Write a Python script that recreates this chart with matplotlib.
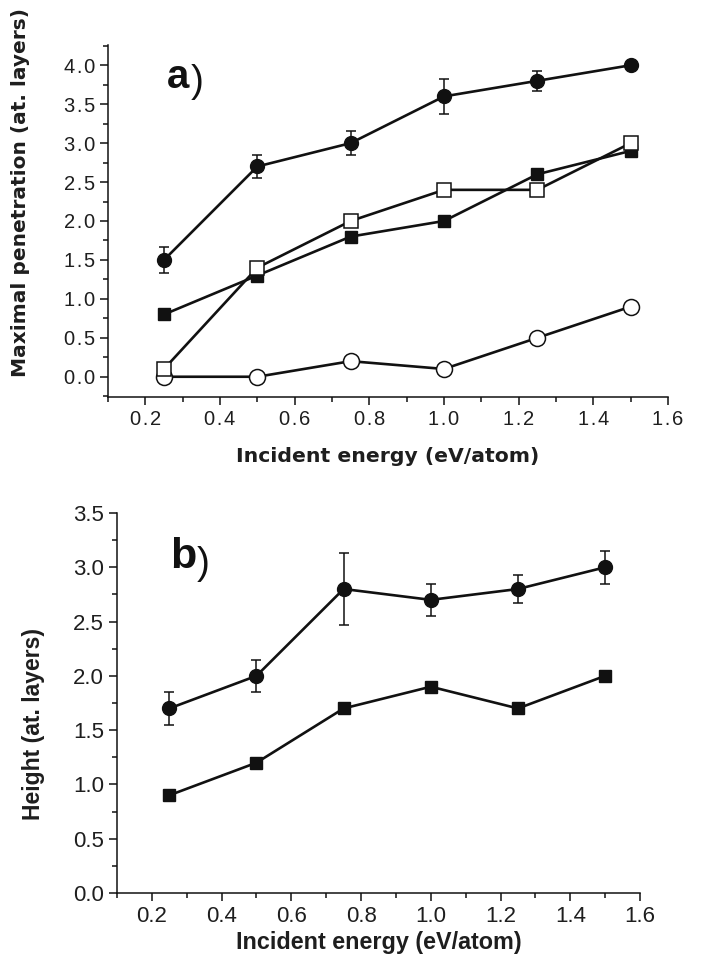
import matplotlib
matplotlib.use('Agg')
import matplotlib.pyplot as plt
from matplotlib.ticker import MultipleLocator

# incident energies (eV/atom)
energy = [0.25, 0.5, 0.75, 1.0, 1.25, 1.5]

# panel a - maximal penetration (at. layers)
pen_circ = [1.5, 2.7, 3.0, 3.6, 3.8, 4.0]
pen_circ_err = [0.17, 0.15, 0.15, 0.22, 0.13, 0.0]
pen_sq = [0.8, 1.3, 1.8, 2.0, 2.6, 2.9]
pen_open_sq = [0.1, 1.4, 2.0, 2.4, 2.4, 3.0]
pen_open_circ = [0.0, 0.0, 0.2, 0.1, 0.5, 0.9]

# panel b - height (at. layers)
h_circ = [1.7, 2.0, 2.8, 2.7, 2.8, 3.0]
h_circ_err = [0.15, 0.15, 0.33, 0.15, 0.13, 0.15]
h_sq = [0.9, 1.2, 1.7, 1.9, 1.7, 2.0]

W, H = 702, 969
fig = plt.figure(figsize=(W / 100, H / 100), dpi=100)
k = '#111111'
lw = 1.9
arial = ['Liberation Sans', 'DejaVu Sans']

def box(x0, y0, x1, y1):
    # pixel box -> figure fraction
    return [x0 / W, 1 - y1 / H, (x1 - x0) / W, (y1 - y0) / H]

def style(ax, size, spaced=False):
    for s in ['top', 'right']:
        ax.spines[s].set_visible(False)
    for s in ['left', 'bottom']:
        ax.spines[s].set_linewidth(1.1)
        ax.spines[s].set_color(k)
    ax.xaxis.set_major_locator(MultipleLocator(0.2))
    ax.xaxis.set_minor_locator(MultipleLocator(0.1))
    ax.yaxis.set_major_locator(MultipleLocator(0.5))
    ax.yaxis.set_minor_locator(MultipleLocator(0.25))
    ax.tick_params(which='major', length=6, width=1.1, color=k, direction='out', pad=3.5,
                   labelsize=size, labelfontfamily=arial, labelcolor='#1e1e1e')
    ax.tick_params(which='minor', length=3.5, width=1.1, color=k, direction='out')
    # panel a uses slightly letter-spaced tick labels (hair spaces)
    if spaced:
        fmt = lambda v, p: '\u200a'.join('%.1f' % v)
    else:
        fmt = lambda v, p: '%.1f' % v
    ax.xaxis.set_major_formatter(plt.FuncFormatter(fmt))
    ax.yaxis.set_major_formatter(plt.FuncFormatter(fmt))

# ---------------- panel a ----------------
ax1 = fig.add_axes(box(108, 45, 668, 397))
ax1.set_xlim(0.1, 1.6)
ax1.set_ylim(-0.26, 4.26)
ax1.errorbar(energy, pen_circ, yerr=pen_circ_err, color=k, lw=lw, marker='o', ms=10,
             mfc=k, mec=k, ecolor=k, elinewidth=1.1, capsize=3.5, capthick=1.1, zorder=3)
ax1.plot(energy, pen_sq, color=k, lw=lw, marker='s', ms=8, mfc=k, mec=k, zorder=3)
ax1.plot(energy, pen_open_circ, color=k, lw=lw, marker='o', ms=11.5, mfc='white', mec=k,
         mew=1.1, zorder=4)
ax1.plot(energy, pen_open_sq, color=k, lw=lw, marker='s', ms=10, mfc='white', mec=k,
         mew=1.1, zorder=5)
style(ax1, 14.5, spaced=True)
ax1.text(0.258, 3.71, 'a', fontsize=29, fontweight='bold', family=arial, color=k)
ax1.text(0.322, 3.66, ')', fontsize=28, family=arial, color=k)
fig.text(388 / W, 1 - 456 / H, 'Incident energy (eV/atom)', ha='center', va='center',
         fontsize=14.7, fontweight='bold', family='DejaVu Sans', color='#1e1e1e')
fig.text(21 / W, 1 - 192 / H, 'Maximal penetration (at. layers)', ha='center', va='center',
         rotation=90, fontsize=14.5, fontweight='bold', family='DejaVu Sans', color='#1e1e1e')

# ---------------- panel b ----------------
ax2 = fig.add_axes(box(117, 513, 640, 893))
ax2.set_xlim(0.1, 1.6)
ax2.set_ylim(0, 3.5)
ax2.errorbar(energy, h_circ, yerr=h_circ_err, color=k, lw=lw, marker='o', ms=10,
             mfc=k, mec=k, ecolor=k, elinewidth=1.1, capsize=3.5, capthick=1.1, zorder=3)
ax2.plot(energy, h_sq, color=k, lw=lw, marker='s', ms=8.5, mfc=k, mec=k, zorder=3)
style(ax2, 16)
ax2.text(0.252, 2.99, 'b', fontsize=31, fontweight='bold', family=arial, color=k)
ax2.text(0.328, 2.94, ')', fontsize=28, family=arial, color=k)
fig.text(379 / W, 1 - 942 / H, 'Incident energy (eV/atom)', ha='center', va='center',
         fontsize=16.8, fontweight='bold', family=arial, color='#1e1e1e')
fig.text(34 / W, 1 - 724 / H, 'Height (at. layers)', ha='center', va='center', rotation=90,
         fontsize=16.5, fontweight='bold', family=arial, color='#1e1e1e')

fig.savefig('out.png', dpi=100)
